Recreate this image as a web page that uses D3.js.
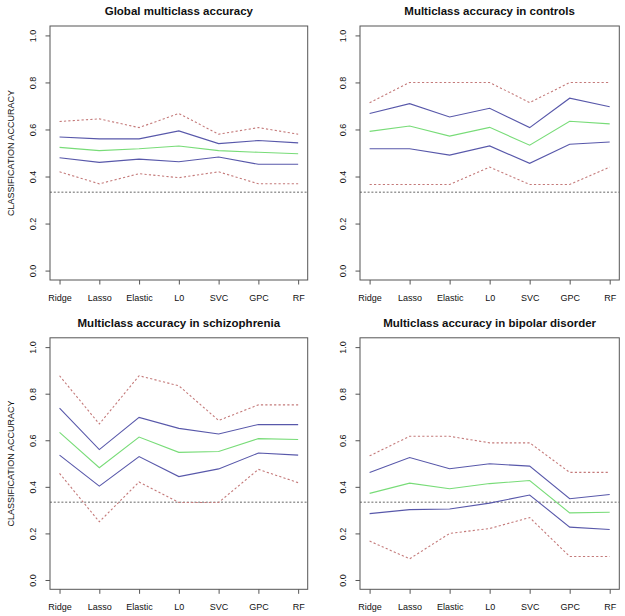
<!DOCTYPE html>
<html>
<head>
<meta charset="utf-8">
<script src="https://cdn.jsdelivr.net/npm/d3@7"></script>
<style>
  html, body { margin: 0; padding: 0; background: #fff; }
  svg { display: block; }
  text { font-family: "Liberation Sans", Arial, Helvetica, sans-serif; fill: #111; }
</style>
</head>
<body>
<svg id="chart" width="625" height="616"></svg>
<script>
// ---------- DATA ----------
const methods = ["Ridge", "Lasso", "Elastic", "L0", "SVC", "GPC", "RF"];
const yTickValues = [0.0, 0.2, 0.4, 0.6, 0.8, 1.0];
const chanceLevel = 1 / 3;

const panelTitles = [
  "Global multiclass accuracy",
  "Multiclass accuracy in controls",
  "Multiclass accuracy in schizophrenia",
  "Multiclass accuracy in bipolar disorder"
];
const yAxisTitle = "CLASSIFICATION ACCURACY";

// Global
const globalCIHigh = [0.634, 0.645, 0.608, 0.668, 0.580, 0.608, 0.580];
const globalHigh   = [0.568, 0.560, 0.560, 0.594, 0.540, 0.553, 0.543];
const globalMean   = [0.524, 0.510, 0.518, 0.530, 0.510, 0.503, 0.497];
const globalLow    = [0.480, 0.460, 0.474, 0.463, 0.483, 0.452, 0.452];
const globalCILow  = [0.420, 0.369, 0.412, 0.395, 0.420, 0.369, 0.369];

// Controls
const controlsCIHigh = [0.714, 0.800, 0.800, 0.800, 0.714, 0.800, 0.800];
const controlsHigh   = [0.668, 0.710, 0.653, 0.690, 0.608, 0.733, 0.697];
const controlsMean   = [0.592, 0.615, 0.572, 0.609, 0.533, 0.635, 0.624];
const controlsLow    = [0.518, 0.518, 0.491, 0.530, 0.456, 0.537, 0.547];
const controlsCILow  = [0.366, 0.366, 0.366, 0.440, 0.366, 0.366, 0.440];

// Schizophrenia
const szCIHigh = [0.877, 0.670, 0.877, 0.834, 0.685, 0.752, 0.752];
const szHigh   = [0.738, 0.560, 0.698, 0.651, 0.627, 0.668, 0.667];
const szMean   = [0.634, 0.482, 0.614, 0.548, 0.552, 0.607, 0.603];
const szLow    = [0.536, 0.403, 0.530, 0.444, 0.477, 0.545, 0.536];
const szCILow  = [0.458, 0.250, 0.421, 0.333, 0.333, 0.475, 0.418];

// Bipolar disorder
const bdCIHigh = [0.533, 0.617, 0.617, 0.589, 0.589, 0.462, 0.462];
const bdHigh   = [0.462, 0.526, 0.478, 0.499, 0.489, 0.349, 0.367];
const bdMean   = [0.372, 0.416, 0.392, 0.414, 0.427, 0.288, 0.291];
const bdLow    = [0.285, 0.302, 0.305, 0.330, 0.365, 0.227, 0.217];
const bdCILow  = [0.167, 0.091, 0.200, 0.221, 0.268, 0.101, 0.101];

const panelSeries = [
  [globalCIHigh, globalHigh, globalMean, globalLow, globalCILow],
  [controlsCIHigh, controlsHigh, controlsMean, controlsLow, controlsCILow],
  [szCIHigh, szHigh, szMean, szLow, szCILow],
  [bdCIHigh, bdHigh, bdMean, bdLow, bdCILow]
];

// ---------- STYLE / LAYOUT ----------
const seriesStyle = [
  { color: "#c47a7a", width: 1.1, dash: "2.2,2.2" },
  { color: "#5858aa", width: 1.1, dash: null },
  { color: "#78dc78", width: 1.1, dash: null },
  { color: "#5858aa", width: 1.1, dash: null },
  { color: "#c47a7a", width: 1.1, dash: "2.2,2.2" }
];

const panels = [
  { left: 50,  right: 307.7, top: 26,    bottom: 280,   ylab: true  },
  { left: 360, right: 619.3, top: 26,    bottom: 280,   ylab: false },
  { left: 50,  right: 307.7, top: 337.8, bottom: 589.3, ylab: true  },
  { left: 360, right: 619.3, top: 337.8, bottom: 589.3, ylab: false }
];

const svg = d3.select("#chart");

panels.forEach((p, i) => {
  const g = svg.append("g");
  // R-style 4% extension on each side of 1..7 and 0..1
  const x = d3.scaleLinear().domain([0.76, 7.24]).range([p.left, p.right]);
  const xPos = j => x(j + 1);
  const y = d3.scaleLinear().domain([-0.04, 1.04]).range([p.bottom, p.top]);

  // chance line
  g.append("line")
    .attr("x1", p.left).attr("x2", p.right)
    .attr("y1", y(chanceLevel)).attr("y2", y(chanceLevel))
    .attr("stroke", "#999").attr("stroke-width", 1.5)
    .attr("stroke-dasharray", "2,1.8");

  // series lines
  const line = d3.line().x((d, j) => xPos(j)).y(d => y(d));
  panelSeries[i].forEach((vals, k) => {
    const st = seriesStyle[k];
    g.append("path")
      .datum(vals)
      .attr("d", line)
      .attr("fill", "none")
      .attr("stroke", st.color)
      .attr("stroke-width", st.width)
      .attr("stroke-dasharray", st.dash);
  });

  // box
  g.append("rect")
    .attr("x", p.left).attr("y", p.top)
    .attr("width", p.right - p.left).attr("height", p.bottom - p.top)
    .attr("fill", "none").attr("stroke", "#555").attr("stroke-width", 1);

  // x axis
  const xAxis = d3.axisBottom(x)
    .tickValues(d3.range(1, methods.length + 1))
    .tickFormat(v => methods[v - 1])
    .tickSize(4.5).tickSizeOuter(0);
  const gx = g.append("g").attr("transform", `translate(0,${p.bottom})`).call(xAxis);
  gx.select(".domain").remove();
  gx.selectAll(".tick line").attr("stroke", "#555");
  gx.selectAll(".tick text")
    .attr("y", 20.5).attr("dy", 0)
    .style("font-size", "9px").style("fill", "#111")
    .style("font-family", "'Liberation Sans', Arial, sans-serif");

  // y axis
  const yAxis = d3.axisLeft(y).tickValues(yTickValues)
    .tickFormat(d3.format(".1f")).tickSize(4.5).tickSizeOuter(0);
  const gy = g.append("g").attr("transform", `translate(${p.left},0)`).call(yAxis);
  gy.select(".domain").remove();
  gy.selectAll(".tick line").attr("stroke", "#555");
  gy.selectAll(".tick text")
    .attr("x", 0).attr("dy", 0).attr("y", 0)
    .attr("transform", "translate(-14,0) rotate(-90)")
    .attr("text-anchor", "middle")
    .style("font-size", "9px").style("fill", "#111")
    .style("font-family", "'Liberation Sans', Arial, sans-serif");

  // title
  g.append("text")
    .attr("x", (p.left + p.right) / 2)
    .attr("y", p.top - 11)
    .attr("text-anchor", "middle")
    .style("font-size", "11.5px").style("font-weight", "bold")
    .text(panelTitles[i]);

  // y axis title
  if (p.ylab) {
    g.append("text")
      .attr("transform", `translate(${p.left - 36},${(p.top + p.bottom) / 2}) rotate(-90)`)
      .attr("text-anchor", "middle")
      .style("font-size", "9px")
      .text(yAxisTitle);
  }
});
</script>
</body>
</html>
